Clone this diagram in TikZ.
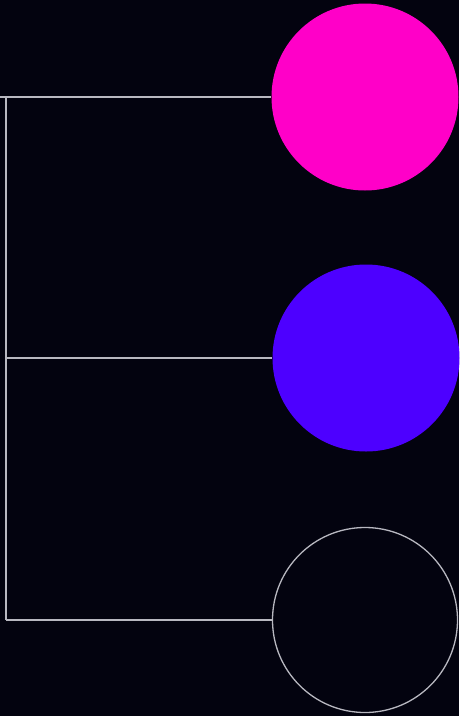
\documentclass[tikz,border=0pt]{standalone}
\usepackage{tikz}
\usepackage{xcolor}

\definecolor{bgdark}{HTML}{03030F}
\definecolor{hotpink}{HTML}{FF00C8}
\definecolor{violetblue}{HTML}{4D00FF}
\definecolor{linegray}{HTML}{B8B8C0}

\begin{document}
\begin{tikzpicture}[x=1pt, y=-1pt]
    % Background
    \fill[bgdark] (0,0) rectangle (459,716);
    \useasboundingbox (0,0) rectangle (459,716);

    % Circles
    \node[draw=none, circle, fill=hotpink, minimum size=187pt, inner sep=0pt] (pink) at (365,97) {};
    \node[draw=none, circle, fill=violetblue, minimum size=187pt, inner sep=0pt] (blue) at (366,358) {};
    \node[draw=linegray, circle, line width=1.3pt, minimum size=185pt, inner sep=0pt] (empty) at (365,620) {};

    % Bracket points
    \coordinate (start) at (0,97);
    \coordinate (top) at (6,97);
    \coordinate (mid) at (6,358);
    \coordinate (bot) at (6,620);

    % Connections
    \draw[linegray, line width=1.3pt] (start) -- (pink.west);
    \draw[linegray, line width=1.3pt] (top) -- (bot);
    \draw[linegray, line width=1.3pt] (mid) -- (blue.west);
    \draw[linegray, line width=1.3pt] (bot) -- (empty.west);
\end{tikzpicture}
\end{document}
